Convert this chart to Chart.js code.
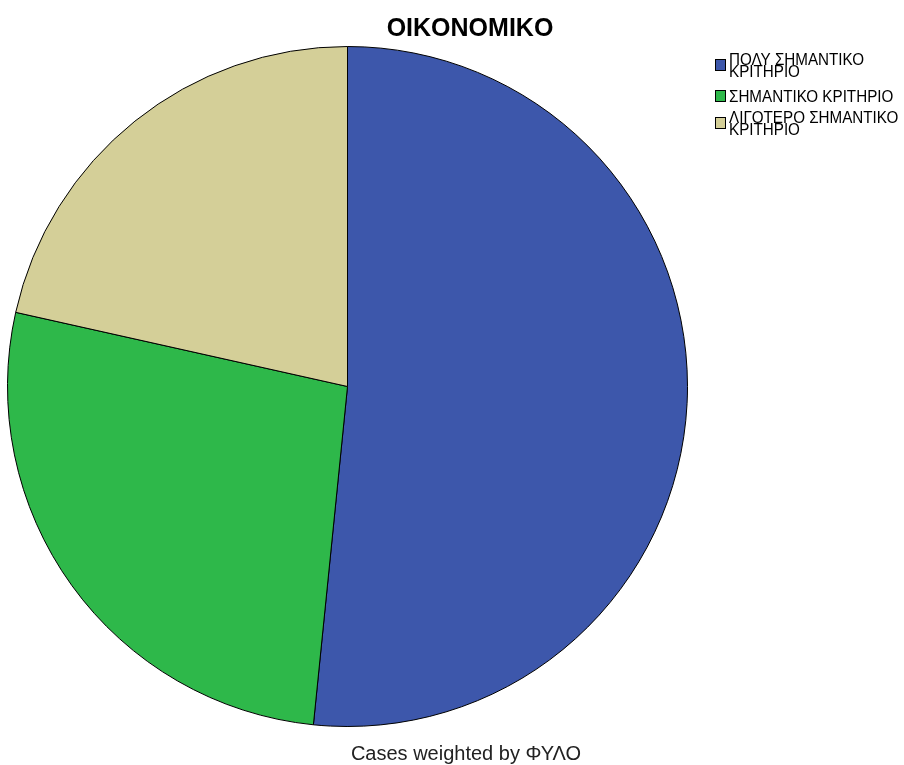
<!DOCTYPE html>
<html>
<head>
<meta charset="utf-8">
<script src="https://cdn.jsdelivr.net/npm/chart.js@4"></script>
<style>
  html, body { margin: 0; padding: 0; background: #fff; }
  canvas { display: block; }
</style>
</head>
<body>
<canvas id="pie" width="904" height="765"></canvas>
<script>
// slice labels (each one already split into its legend lines)
const categories = [
  ["ΠΟΛΥ ΣΗΜΑΝΤΙΚΟ", "ΚΡΙΤΗΡΙΟ"],
  ["ΣΗΜΑΝΤΙΚΟ ΚΡΙΤΗΡΙΟ"],
  ["ΛΙΓΟΤΕΡΟ ΣΗΜΑΝΤΙΚΟ", "ΚΡΙΤΗΡΙΟ"]
];
// share of weighted cases, percent
const shares = [51.6, 26.9, 21.5];
const sliceColors = ["#3d57ab", "#2eb84a", "#d4cf98"];
const chartTitle = "OIKONOMIKO";
const footnote = "Cases weighted by ΦΥΛΟ";

// title, footnote and the wrapped legend on the right
const textPlugin = {
  id: "spssText",
  afterDraw(chart) {
    const ctx = chart.ctx;
    ctx.save();
    ctx.fillStyle = "#000";
    ctx.textAlign = "center";
    ctx.textBaseline = "alphabetic";
    ctx.font = "bold 25px Arial, 'Liberation Sans', sans-serif";
    ctx.fillText(chartTitle, 470, 36);
    ctx.fillStyle = "#222";
    ctx.font = "20px Arial, 'Liberation Sans', sans-serif";
    ctx.fillText(footnote, 466, 760);

    // legend: first-line baselines of each entry
    const rowY = [65, 102, 123];
    const lineH = 12;
    ctx.textAlign = "left";
    ctx.font = "16px Arial, 'Liberation Sans', sans-serif";
    chart.data.labels.forEach((lines, i) => {
      const y = rowY[i];
      const boxTop = lines.length > 1 ? y - 6 : y - 12;
      ctx.fillStyle = chart.data.datasets[0].backgroundColor[i];
      ctx.fillRect(715, boxTop, 11, 12);
      ctx.strokeStyle = "#000";
      ctx.lineWidth = 1;
      ctx.strokeRect(715.5, boxTop + 0.5, 10, 11);
      ctx.fillStyle = "#000";
      lines.forEach((t, j) => {
        ctx.save();
        ctx.translate(729, y + j * lineH);
        ctx.scale(0.95, 1);
        ctx.fillText(t, 0, 0);
        ctx.restore();
      });
    });
    ctx.restore();
  }
};

new Chart(document.getElementById("pie"), {
  type: "pie",
  data: {
    labels: categories,
    datasets: [{
      data: shares,
      backgroundColor: sliceColors,
      borderColor: "#000",
      borderWidth: 1
    }]
  },
  options: {
    responsive: false,
    animation: false,
    layout: { padding: { left: 7, right: 216, top: 45, bottom: 37 } },
    plugins: {
      legend: { display: false },
      tooltip: { enabled: false },
      title: { display: false }
    }
  },
  plugins: [textPlugin]
});
</script>
</body>
</html>
